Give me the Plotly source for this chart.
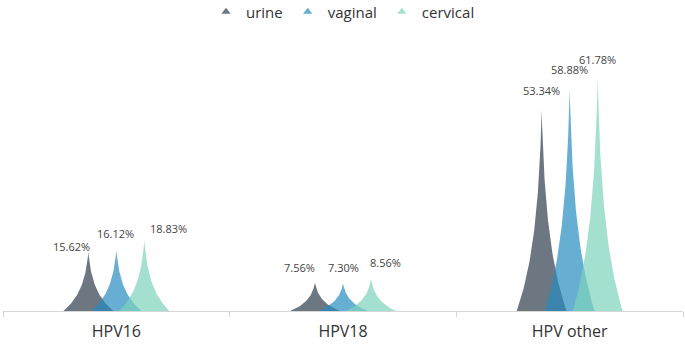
import numpy as np
import plotly.graph_objects as go

# ---- data ----
categories = ["HPV16", "HPV18", "HPV other"]
series_names = ["urine", "vaginal", "cervical"]
urine = [15.62, 7.56, 53.34]
vaginal = [16.12, 7.30, 58.88]
cervical = [18.83, 8.56, 61.78]
values = [urine, vaginal, cervical]

# ---- style ----
fill_colors = ["rgba(45,61,76,0.7)", "rgba(38,139,192,0.7)", "rgba(125,211,188,0.7)"]
legend_colors = ["#6b7681", "#67aed3", "#a4e0d0"]
series_offset = [-0.1235, 0.0, 0.1235]   # category units
half_width = 0.110                        # category units
# label pixel offsets (dx, dy) per category per series
label_dx = [[-45, -1, 52], [-44, 0, 42], [-28, 0, 28]]
label_dy = [[6, 17, 11], [15, 16, 16], [19, 19, 19]]

k = 2.6
t = np.linspace(0, 1, 60)
prof = (np.exp(-k * t) - np.exp(-k)) / (1 - np.exp(-k))  # half-width fraction vs height fraction

fig = go.Figure()
for si, name in enumerate(series_names):
    for ci, cat in enumerate(categories):
        v = values[si][ci]
        cx = ci + series_offset[si]
        xs_left = cx - half_width * prof
        ys = v * t
        xs_right = cx + half_width * prof[::-1]
        xs = np.concatenate([xs_left, xs_right])
        yy = np.concatenate([ys, ys[::-1]])
        fig.add_trace(go.Scatter(
            x=xs, y=yy, mode="lines", fill="toself",
            fillcolor=fill_colors[si], line=dict(width=0),
            showlegend=False, hoverinfo="skip",
        ))
    # legend dummy
    fig.add_trace(go.Scatter(
        x=[None], y=[None], mode="markers", name=name,
        marker=dict(symbol="triangle-up", size=8, color=legend_colors[si]),
    ))

for si in range(3):
    for ci in range(3):
        v = values[si][ci]
        fig.add_annotation(
            x=ci, y=v, text=f"{v:.2f}%", showarrow=False,
            xshift=label_dx[ci][si], yshift=label_dy[ci][si],
            yanchor="middle", xanchor="center",
            font=dict(size=11, color="#444", family="Open Sans"),
        )

fig.update_layout(
    width=685, height=344,
    margin=dict(l=3, r=2, t=47, b=31),
    paper_bgcolor="white", plot_bgcolor="white",
    font=dict(family="Open Sans", color="#333"),
    showlegend=True,
    legend=dict(
        orientation="h", x=0.5, xanchor="center",
        yref="container", y=0.965, yanchor="middle",
        font=dict(size=15, color="#333"),
        itemwidth=30, tracegroupgap=0,
    ),
    xaxis=dict(
        range=[-0.5, 2.5], tickmode="array",
        tickvals=[0, 1, 2], ticktext=categories,
        ticks="", showgrid=False, zeroline=False,
        showline=True, linecolor="#d6d6d6", linewidth=1,
        tickfont=dict(size=16, color="#333"),
        ticklabelstandoff=6,
        minor=dict(tickvals=[-0.5, 0.5, 1.5, 2.5], ticks="outside",
                   ticklen=5, tickcolor="#d6d6d6", tickwidth=1, showgrid=False),
        fixedrange=True,
    ),
    yaxis=dict(range=[0, 70], visible=False, showgrid=False, zeroline=False, fixedrange=True),
)

fig.write_html("out.html")
